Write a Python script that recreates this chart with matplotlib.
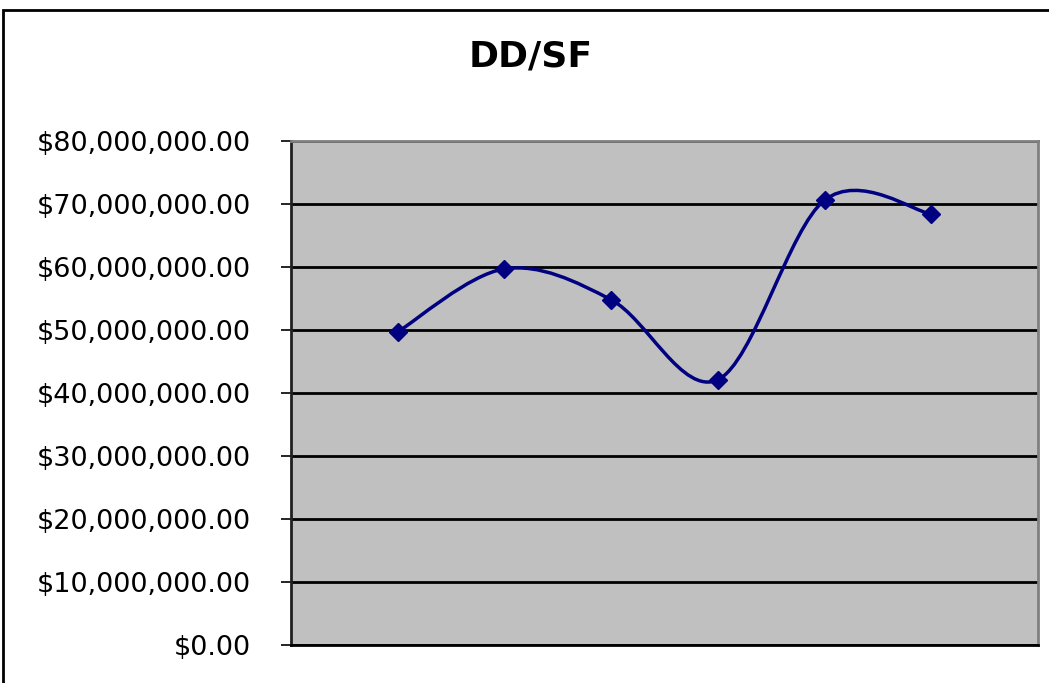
import numpy as np
import matplotlib.pyplot as plt
from matplotlib.path import Path
from matplotlib.patches import PathPatch, Rectangle
from matplotlib.ticker import FuncFormatter, MultipleLocator

# values
positions = [1, 2, 3, 4, 5, 6]
values = [49.7e6, 59.7e6, 54.8e6, 42.1e6, 70.6e6, 68.4e6]
title = "DD/SF"

fig = plt.figure(figsize=(10.49, 6.83), dpi=100)
ax = fig.add_axes([0.2774, 0.0556, 0.7121, 0.738])
ax.set_facecolor("#c0c0c0")

# smoothed line like Excel: Bezier segments with Catmull-Rom control points
x = np.array(positions, dtype=float)
y = np.array(values, dtype=float)
px = np.concatenate([[x[0]], x, [x[-1]]])
py = np.concatenate([[y[0]], y, [y[-1]]])
verts = [(x[0], y[0])]
codes = [Path.MOVETO]
for i in range(len(x) - 1):
    c1 = (px[i + 1] + (px[i + 2] - px[i]) / 6, py[i + 1] + (py[i + 2] - py[i]) / 6)
    c2 = (px[i + 2] - (px[i + 3] - px[i + 1]) / 6, py[i + 2] - (py[i + 3] - py[i + 1]) / 6)
    verts += [c1, c2, (x[i + 1], y[i + 1])]
    codes += [Path.CURVE4] * 3
ax.add_patch(PathPatch(Path(verts, codes), facecolor="none", edgecolor="#000080",
                       lw=2.5, zorder=3))
ax.plot(x, y, linestyle="none", marker="D", markersize=9.5, color="#000080", zorder=4)

ax.set_xlim(0, 7)
ax.set_ylim(0, 80e6)
ax.yaxis.set_major_locator(MultipleLocator(10e6))
ax.yaxis.set_major_formatter(FuncFormatter(lambda v, p: "${:,.2f}".format(v)))
ax.grid(axis="y", color="black", lw=2)
ax.set_axisbelow(True)
ax.set_xticks([])
ax.tick_params(axis="y", length=7, width=1.2, color="black", pad=22, labelsize=19.5)

for s in ["top", "right"]:
    ax.spines[s].set_color("#808080")
    ax.spines[s].set_linewidth(2)
ax.spines["left"].set_color("#202020")
ax.spines["left"].set_linewidth(2)
ax.spines["bottom"].set_color("black")
ax.spines["bottom"].set_linewidth(2)

fig.text(0.506, 0.918, title, ha="center", va="center", fontsize=26, fontweight="bold")

# chart border (cut off at right and bottom)
fig.patches.append(Rectangle((0.003, -0.1), 1.2, 1.0856, transform=fig.transFigure,
                             fill=False, edgecolor="black", lw=2))

fig.savefig("out.png", dpi=100)
